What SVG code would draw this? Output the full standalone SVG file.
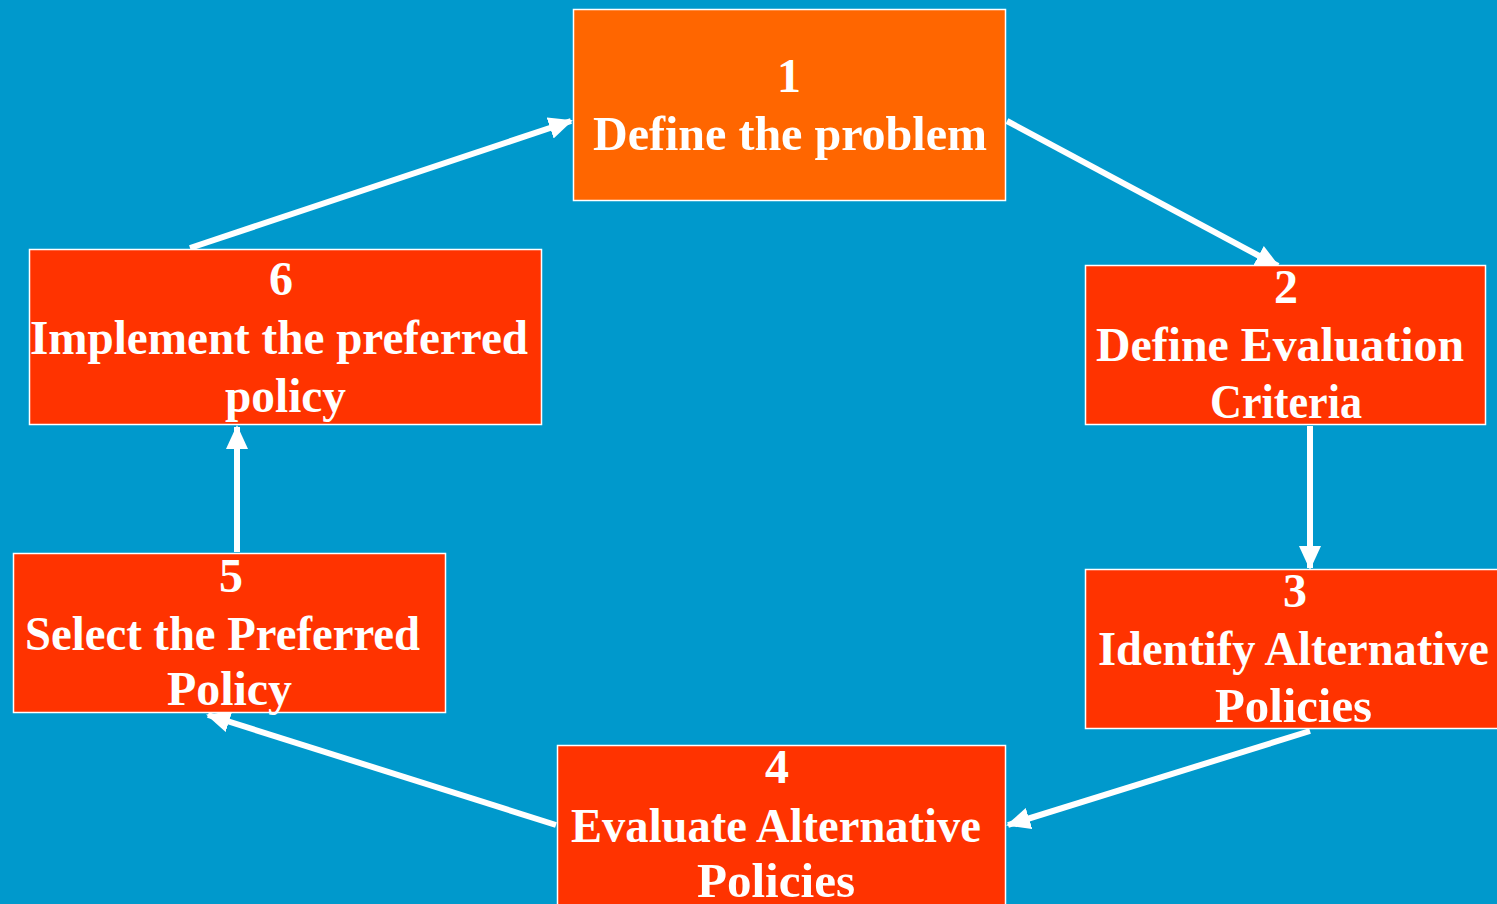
<svg xmlns="http://www.w3.org/2000/svg" width="1497" height="904" viewBox="0 0 1497 904">
<defs>
<style>
.box{fill:#FF3300;stroke:#FFFFFF;stroke-width:1.5}
.box1{fill:#FF6600;stroke:#FFFFFF;stroke-width:1.5}
.t{font-family:"Liberation Serif","Times New Roman",serif;font-weight:bold;font-size:48px;fill:#FFFFFF;text-anchor:middle}
.c{stroke:#FFFFFF;stroke-width:6;fill:none}
</style>
<marker id="ah" markerUnits="userSpaceOnUse" markerWidth="24" markerHeight="24" viewBox="0 0 24 24" refX="22" refY="12" orient="auto">
<polygon points="0,1 24,12 0,23" fill="#FFFFFF"/>
</marker>
</defs>
<rect x="0" y="0" width="1497" height="904" fill="#0099CC"/>
<g id="connectors">
<line class="c" x1="190" y1="248" x2="571" y2="121" marker-end="url(#ah)"/>
<line class="c" x1="1007" y1="121" x2="1278" y2="266" marker-end="url(#ah)"/>
<line class="c" x1="1310" y1="426" x2="1310" y2="568" marker-end="url(#ah)"/>
<line class="c" x1="1310" y1="731" x2="1008" y2="825" marker-end="url(#ah)"/>
<line class="c" x1="556" y1="825" x2="208" y2="715" marker-end="url(#ah)"/>
<line class="c" x1="237" y1="552" x2="237" y2="427" marker-end="url(#ah)"/>
</g>
<g id="node1">
<rect class="box1" x="573.5" y="9.5" width="432" height="191"/>
<text class="t" x="789" y="92">1</text>
<text class="t" x="790" y="150" textLength="394" lengthAdjust="spacingAndGlyphs">Define the problem</text>
</g>
<g id="node2">
<rect class="box" x="1085.5" y="265.5" width="400" height="159"/>
<text class="t" x="1286" y="303">2</text>
<text class="t" x="1280" y="361" textLength="368" lengthAdjust="spacingAndGlyphs">Define Evaluation</text>
<text class="t" x="1286" y="418" textLength="152" lengthAdjust="spacingAndGlyphs">Criteria</text>
</g>
<g id="node3">
<rect class="box" x="1085.5" y="569.5" width="413" height="159"/>
<text class="t" x="1295" y="607">3</text>
<text class="t" x="1293.5" y="665" textLength="391" lengthAdjust="spacingAndGlyphs">Identify Alternative</text>
<text class="t" x="1293.5" y="722" textLength="157" lengthAdjust="spacingAndGlyphs">Policies</text>
</g>
<g id="node4">
<rect class="box" x="557.5" y="745.5" width="448" height="162"/>
<text class="t" x="777" y="783">4</text>
<text class="t" x="776" y="842" textLength="410" lengthAdjust="spacingAndGlyphs">Evaluate Alternative</text>
<text class="t" x="776" y="897" textLength="158" lengthAdjust="spacingAndGlyphs">Policies</text>
</g>
<g id="node5">
<rect class="box" x="13.5" y="553.5" width="432" height="159"/>
<text class="t" x="231" y="592">5</text>
<text class="t" x="222.5" y="650" textLength="395" lengthAdjust="spacingAndGlyphs">Select the Preferred</text>
<text class="t" x="229.5" y="705" textLength="125" lengthAdjust="spacingAndGlyphs">Policy</text>
</g>
<g id="node6">
<rect class="box" x="29.5" y="249.5" width="512" height="175"/>
<text class="t" x="281" y="295">6</text>
<text class="t" x="279" y="354" textLength="498" lengthAdjust="spacingAndGlyphs">Implement the preferred</text>
<text class="t" x="285.5" y="412" textLength="121" lengthAdjust="spacingAndGlyphs">policy</text>
</g>
</svg>
